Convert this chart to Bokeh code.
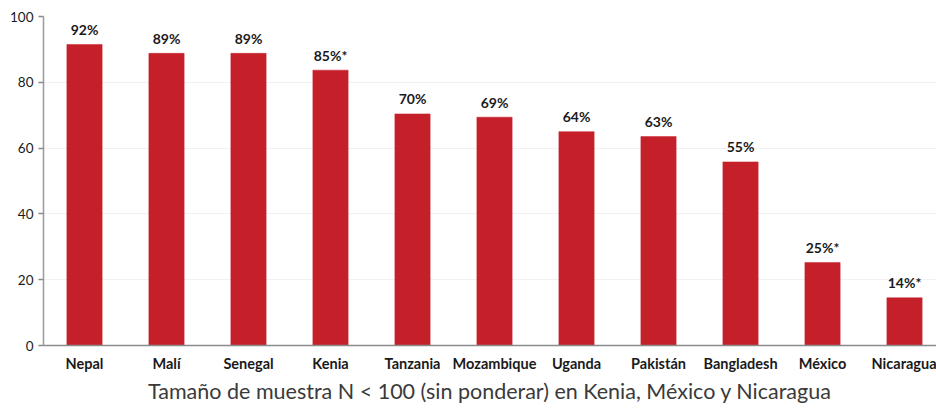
from bokeh.plotting import figure
from bokeh.models import ColumnDataSource, Range1d, FixedTicker
from bokeh.core.properties import value
from bokeh.embed import file_html
from bokeh.resources import INLINE

countries = ["Nepal", "Malí", "Senegal", "Kenia", "Tanzania", "Mozambique",
             "Uganda", "Pakistán", "Bangladesh", "México", "Nicaragua"]
values = [91.5, 88.8, 88.8, 83.7, 70.4, 69.4, 65.0, 63.5, 55.8, 25.2, 14.5]
bar_labels = ["92%", "89%", "89%", "85%*", "70%", "69%", "64%", "63%", "55%",
              "25%*", "14%*"]
y_ticks = [0, 20, 40, 60, 80, 100]
title_text = "Tamaño de muestra N < 100 (sin ponderar) en Kenia, México y Nicaragua"

FONT = "Lato"
RED = "#c5202a"

xs = [i + 0.5 for i in range(len(countries))]
src = ColumnDataSource(dict(x=xs, top=values, lab=bar_labels))

p = figure(width=936, height=408, output_backend="svg", toolbar_location=None,
           x_range=Range1d(0, 10.89), y_range=Range1d(0, 100),
           min_border_left=43, min_border_right=0, min_border_top=16,
           min_border_bottom=63)
p.outline_line_color = None

p.vbar(x="x", top="top", bottom=0, width=0.43, source=src,
       fill_color=RED, line_color=RED, line_width=0.5)
p.text(x="x", y="top", text="lab", source=src, text_align="center",
       text_baseline="alphabetic", y_offset=-15, text_font=value(FONT),
       text_font_style="bold", text_font_size="14px", text_color="#1a1a1a")

# x axis
p.xaxis.ticker = FixedTicker(ticks=xs)
p.xaxis.major_label_overrides = {x: c for x, c in zip(xs, countries)}
p.xaxis.major_tick_line_color = None
p.xaxis.minor_tick_line_color = None
p.xaxis.axis_line_color = "#8a8a8a"
p.xaxis.axis_line_width = 1.5
p.xaxis.major_label_text_font = FONT
p.xaxis.major_label_text_font_style = "bold"
p.xaxis.major_label_text_font_size = "14.5px"
p.xaxis.major_label_text_color = "#1a1a1a"
p.xaxis.major_label_standoff = 3
p.xaxis.axis_label = title_text
p.xaxis.axis_label_text_font = FONT
p.xaxis.axis_label_text_font_style = "normal"
p.xaxis.axis_label_text_font_size = "21.5px"
p.xaxis.axis_label_text_color = "#3a3a3a"
p.xaxis.axis_label_standoff = 3

# y axis
p.yaxis.ticker = FixedTicker(ticks=y_ticks)
p.yaxis.minor_tick_line_color = None
p.yaxis.major_tick_in = 0
p.yaxis.major_tick_out = 5
p.yaxis.major_tick_line_color = "#8a8a8a"
p.yaxis.major_tick_line_width = 1.5
p.yaxis.axis_line_color = "#9a9a9a"
p.yaxis.axis_line_width = 1.5
p.yaxis.major_label_text_font = FONT
p.yaxis.major_label_text_font_size = "13.5px"
p.yaxis.major_label_text_color = "#1a1a1a"
p.yaxis.major_label_standoff = 5

p.xgrid.grid_line_color = None
p.ygrid.grid_line_color = "#e2e2e2"
p.ygrid.grid_line_dash = "1 1"
p.ygrid.grid_line_width = 1

open("out.html", "w").write(file_html(p, INLINE))
